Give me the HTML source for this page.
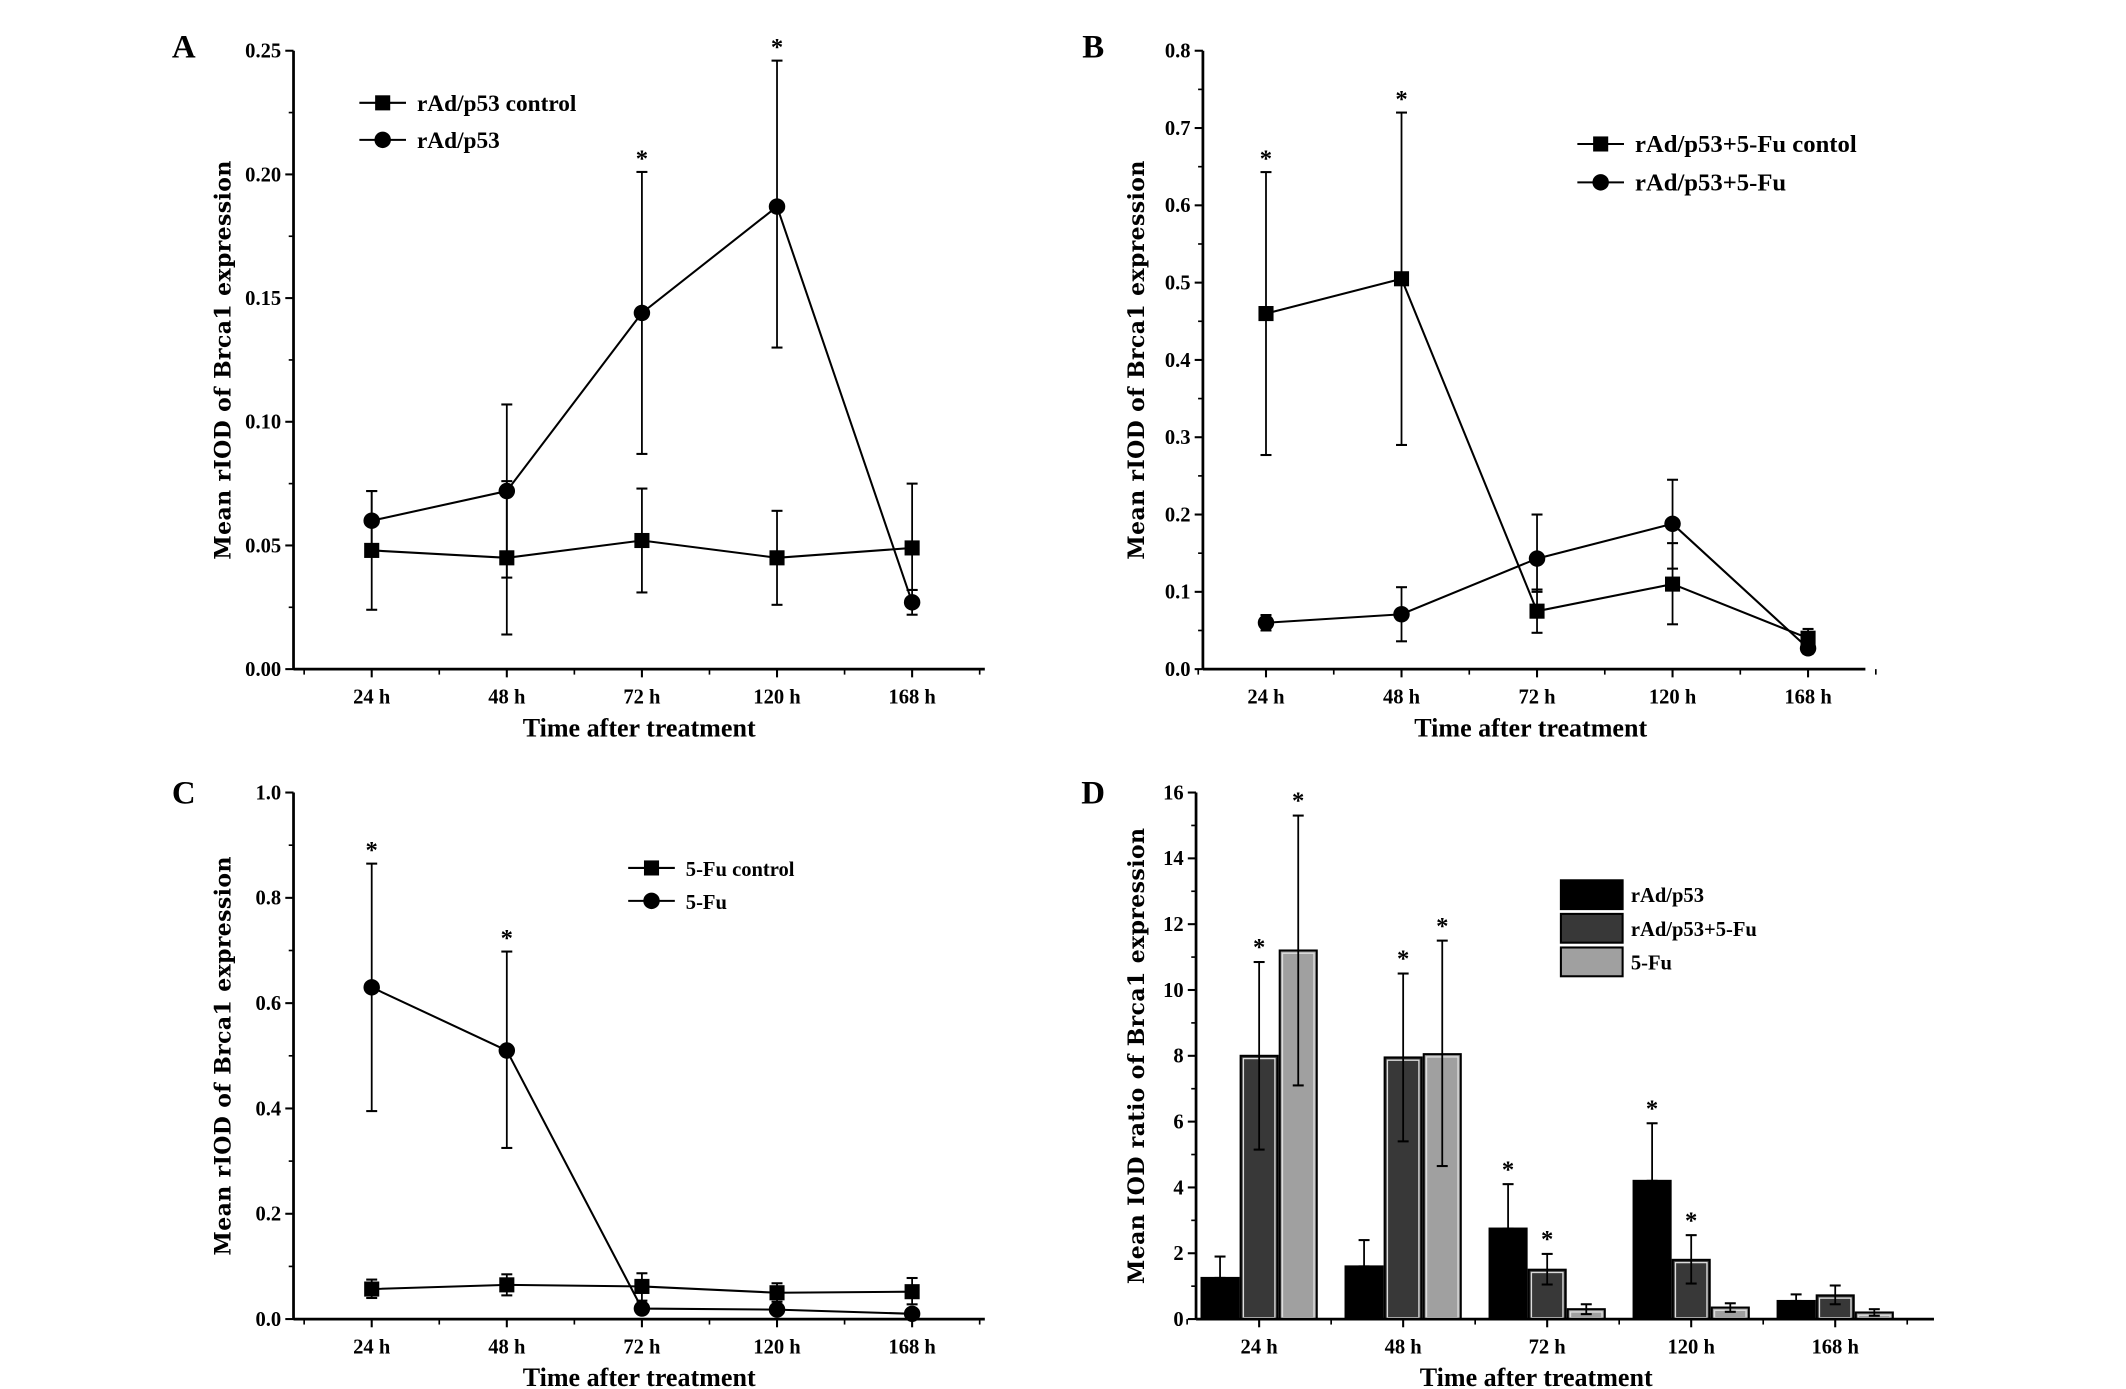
<!DOCTYPE html>
<html><head><meta charset="utf-8"><style>
html,body{margin:0;padding:0;background:#fff;}
svg{display:block;}
text{font-family:"Liberation Serif",serif;font-weight:bold;fill:#000;}
</style></head><body>
<svg id="fig" width="2126" height="1389" viewBox="0 0 1550 1013" preserveAspectRatio="none" xmlns="http://www.w3.org/2000/svg"></svg>
<script>
const categories = ["24 h","48 h","72 h","120 h","168 h"];
// Panel A
const aCtrl = [0.048,0.045,0.052,0.045,0.049];
const aCtrlLo = [0.024,0.014,0.031,0.026,0.032];
const aCtrlHi = [0.072,0.076,0.073,0.064,0.075];
const aTrt = [0.060,0.072,0.144,0.187,0.027];
const aTrtLo = [0.048,0.037,0.087,0.130,0.022];
const aTrtHi = [0.072,0.107,0.201,0.246,0.032];
const aStars = [false,false,true,true,false];
const aTicks = ["0.00","0.05","0.10","0.15","0.20","0.25"];
// Panel B
const bCtrl = [0.46,0.505,0.075,0.11,0.04];
const bCtrlLo = [0.277,0.29,0.047,0.058,0.03];
const bCtrlHi = [0.643,0.72,0.103,0.163,0.052];
const bTrt = [0.06,0.071,0.143,0.188,0.027];
const bTrtLo = [0.05,0.036,0.1,0.13,0.02];
const bTrtHi = [0.07,0.106,0.2,0.245,0.035];
const bStars = [true,true,false,false,false];
const bTicks = ["0.0","0.1","0.2","0.3","0.4","0.5","0.6","0.7","0.8"];
// Panel C
const cCtrl = [0.057,0.065,0.062,0.05,0.052];
const cCtrlLo = [0.04,0.045,0.035,0.033,0.028];
const cCtrlHi = [0.075,0.085,0.087,0.068,0.078];
const cTrt = [0.63,0.51,0.02,0.018,0.01];
const cTrtLo = [0.395,0.325,0.012,0.01,0.005];
const cTrtHi = [0.865,0.698,0.028,0.026,0.015];
const cStars = [true,true,false,false,false];
const cTicks = ["0.0","0.2","0.4","0.6","0.8","1.0"];
// Panel D
const dSeries = ["rAd/p53","rAd/p53+5-Fu","5-Fu"];
const dBlack = [1.25,1.6,2.75,4.2,0.55];
const dBlackHi = [1.9,2.4,4.1,5.95,0.75];
const dDark = [8.0,7.95,1.5,1.8,0.72];
const dDarkLo = [5.15,5.4,1.05,1.08,0.45];
const dDarkHi = [10.85,10.5,1.98,2.55,1.02];
const dLight = [11.2,8.05,0.3,0.35,0.2];
const dLightLo = [7.1,4.65,0.15,0.22,0.1];
const dLightHi = [15.3,11.5,0.45,0.48,0.3];
const dStarBlack = [false,false,true,true,false];
const dStarDark = [true,true,true,true,false];
const dStarLight = [true,true,false,false,false];
const dTicks = ["0","2","4","6","8","10","12","14","16"];

const NS="http://www.w3.org/2000/svg";
const svg=document.getElementById('fig');
function mk(tag,attrs,parent){const e=document.createElementNS(NS,tag);for(const k in attrs)e.setAttribute(k,attrs[k]);(parent||svg).appendChild(e);return e;}
function txt(s,x,y,size,anchor,parent,rot){const t=mk('text',{x:x,y:y,'font-size':size,'text-anchor':anchor||'middle'},parent);if(rot)t.setAttribute('transform','rotate(-90 '+x+' '+y+')');t.textContent=s;return t;}

function axes(g,o){
  mk('line',{x1:o.x0,y1:o.y0,x2:o.x0,y2:o.y1,stroke:'#000','stroke-width':2},g);
  mk('line',{x1:o.x0,y1:o.y0,x2:o.x1,y2:o.y0,stroke:'#000','stroke-width':2},g);
  const n=o.ticks.length-1, step=(o.y0-o.y1)/n;
  for(let i=0;i<=n;i++){
    const y=o.y0-step*i;
    mk('line',{x1:o.x0-6,y1:y,x2:o.x0,y2:y,stroke:'#000','stroke-width':1.5},g);
    if(i<n)mk('line',{x1:o.x0-3.5,y1:y-step/2,x2:o.x0,y2:y-step/2,stroke:'#000','stroke-width':1.2},g);
    const t=txt(o.ticks[i],o.x0-9,y+5,15,'end',g);
    
  }
  for(let i=0;i<categories.length;i++){
    const x=o.catX(i);
    mk('line',{x1:x,y1:o.y0,x2:x,y2:o.y0+6,stroke:'#000','stroke-width':1.5},g);
    const h=o.catX(1)-o.catX(0);
    mk('line',{x1:x+h/2,y1:o.y0,x2:x+h/2,y2:o.y0+4,stroke:'#000','stroke-width':1.2},g);
    if(i==0)mk('line',{x1:x-h/2,y1:o.y0,x2:x-h/2,y2:o.y0+4,stroke:'#000','stroke-width':1.2},g);
    const t=txt(categories[i],x,o.y0+25,15,'middle',g);
    
  }
  const xt=txt(o.xTitle,o.xtx,o.y0+49,19,'middle',g);
  const yt=txt(o.yTitle,o.ytx,(o.y0+o.y1)/2,16,'middle',g,true);
  yt.setAttribute('style','font-family:"DejaVu Serif","Liberation Serif",serif;letter-spacing:0.3px');
  const lb=txt(o.label,o.lx,o.ly,24,'middle',g);
}

function errbar(g,x,lo,hi,ys,cap){
  const e=mk('g',{},g);
  
  
  mk('line',{x1:x,y1:ys(lo),x2:x,y2:ys(hi),stroke:'#000','stroke-width':1.3},e);
  mk('line',{x1:x-cap,y1:ys(hi),x2:x+cap,y2:ys(hi),stroke:'#000','stroke-width':1.5},e);
  mk('line',{x1:x-cap,y1:ys(lo),x2:x+cap,y2:ys(lo),stroke:'#000','stroke-width':1.5},e);
}
function marker(g,type,x,y){
  if(type=='sq'){const r=mk('rect',{x:x-5.5,y:y-5.5,width:11,height:11,fill:'#000'},g);}
  else{const c=mk('circle',{cx:x,cy:y,r:6,fill:'#000'},g);}
}

function linePanel(name,o,ymax,series,stars,legend,legPos){
  const g=mk('g',{});
  
  
  axes(g,o);
  const ys=v=>o.y0-(v/ymax)*(o.y0-o.y1);
  series.forEach(s=>{
    const sg=mk('g',{},g);
    
    
    s.v.forEach((v,i)=>errbar(sg,o.catX(i),s.lo[i],s.hi[i],ys,4));
    mk('polyline',{points:s.v.map((v,i)=>o.catX(i)+','+ys(v)).join(' '),fill:'none',stroke:'#000','stroke-width':1.5},sg);
    s.v.forEach((v,i)=>marker(sg,s.m,o.catX(i),ys(v)));
  });
  stars.forEach((st,i)=>{if(st){const top=Math.max(...series.map(s=>s.hi[i]));const t=txt('*',o.catX(i),ys(top)-4,18,'middle',g);}});
  legend.forEach((l,k)=>{
    const y=legPos.y+k*legPos.dy;
    const lg=mk('g',{},g);
    
    
    mk('line',{x1:legPos.x,y1:y,x2:legPos.x+34,y2:y,stroke:'#000','stroke-width':1.5},lg);
    marker(lg,l.m,legPos.x+17,y);
    txt(l.t,legPos.x+42,y+6,legPos.fs,'start',lg);
  });
}

const catA=i=>271+98.5*i;
linePanel('panel-a',{x0:214,x1:718,y0:488,y1:37,ticks:aTicks,catX:catA,yTitle:'Mean rIOD of Brca1 expression',xTitle:'Time after treatment',xtx:466,ytx:168,label:'A',lx:134,ly:42},0.25,
 [{name:'series-rad-p53-control',v:aCtrl,lo:aCtrlLo,hi:aCtrlHi,m:'sq'},{name:'series-rad-p53',v:aTrt,lo:aTrtLo,hi:aTrtHi,m:'ci'}],aStars,
 [{t:'rAd/p53 control',m:'sq'},{t:'rAd/p53',m:'ci'}],{x:262,y:75,dy:27,fs:17});

const catB=i=>923+98.8*i;
linePanel('panel-b',{x0:877,x1:1360,y0:488,y1:37,ticks:bTicks,catX:catB,yTitle:'Mean rIOD of Brca1 expression',xTitle:'Time after treatment',xtx:1116,ytx:834,label:'B',lx:797,ly:42},0.8,
 [{name:'series-combo-control',v:bCtrl,lo:bCtrlLo,hi:bCtrlHi,m:'sq'},{name:'series-combo',v:bTrt,lo:bTrtLo,hi:bTrtHi,m:'ci'}],bStars,
 [{t:'rAd/p53+5-Fu contol',m:'sq'},{t:'rAd/p53+5-Fu',m:'ci'}],{x:1150,y:105,dy:28,fs:18});

linePanel('panel-c',{x0:214,x1:718,y0:962,y1:578,ticks:cTicks,catX:catA,yTitle:'Mean rIOD of Brca1 expression',xTitle:'Time after treatment',xtx:466,ytx:168,label:'C',lx:134,ly:586},1.0,
 [{name:'series-5fu-control',v:cCtrl,lo:cCtrlLo,hi:cCtrlHi,m:'sq'},{name:'series-5fu',v:cTrt,lo:cTrtLo,hi:cTrtHi,m:'ci'}],cStars,
 [{t:'5-Fu control',m:'sq'},{t:'5-Fu',m:'ci'}],{x:458,y:633,dy:24,fs:15});

(function(){
  const g=mk('g',{});
  
  
  const o={x0:872,x1:1410,y0:962,y1:578,ticks:dTicks,catX:i=>918+105*i,yTitle:'Mean IOD ratio of Brca1 expression',xTitle:'Time after treatment',xtx:1120,ytx:834,label:'D',lx:797,ly:586};
  const ymax=16, ys=v=>o.y0-(v/ymax)*(o.y0-o.y1);
  const bw=27, fills=['#000','#383838','#a0a0a0'];
  const sets=[{v:dBlack,lo:dBlack,hi:dBlackHi,st:dStarBlack,n:'bar-rad-p53'},{v:dDark,lo:dDarkLo,hi:dDarkHi,st:dStarDark,n:'bar-rad-p53-5fu'},{v:dLight,lo:dLightLo,hi:dLightHi,st:dStarLight,n:'bar-5fu'}];
  sets.forEach((s,k)=>{
    s.v.forEach((v,i)=>{
      const cx=o.catX(i)+(k-1)*(bw+1.5);
      const r=mk('rect',{x:cx-bw/2,y:ys(v),width:bw,height:o.y0-ys(v),fill:fills[k],stroke:'#000','stroke-width':1.5},g);
      
      
      if(k>0)mk('rect',{x:cx-bw/2+2,y:ys(v)+2,width:bw-4,height:Math.max(0,o.y0-ys(v)-3),fill:'none',stroke:'#ddd','stroke-width':1},g);
      errbar(g,cx,s.lo[i],s.hi[i],ys,4);
      if(s.st[i]){const t=txt('*',cx,ys(s.hi[i])-5,18,'middle',g);}
    });
  });
  axes(g,o);
  dSeries.forEach((n,k)=>{
    const lg=mk('g',{},g);
    
    
    const y=642+k*24.5;
    mk('rect',{x:1138,y:y,width:45,height:21,fill:fills[k],stroke:'#000','stroke-width':1.5},lg);
    txt(n,1189,y+16,15,'start',lg);
  });
})();
</script>
</body></html>
